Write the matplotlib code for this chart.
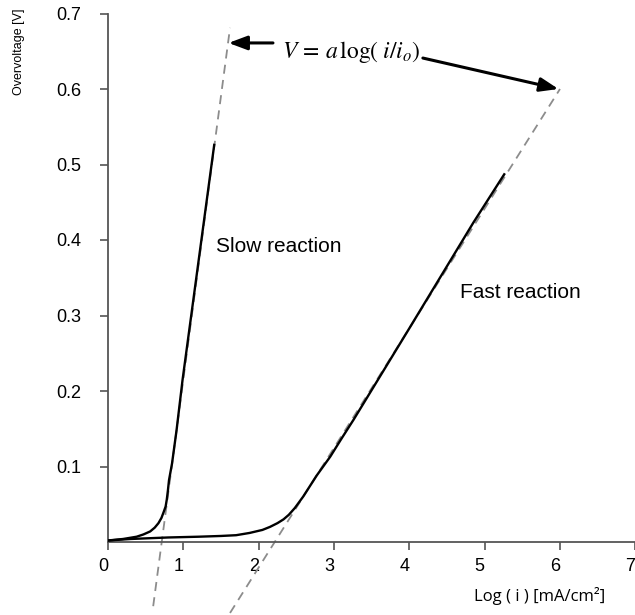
import matplotlib
matplotlib.use("Agg")
import matplotlib.pyplot as plt
from matplotlib.transforms import ScaledTranslation

# Overvoltage vs log current density (Tafel behaviour)
slow_x = [0.0, 0.20, 0.38, 0.47, 0.56, 0.62, 0.67, 0.71, 0.74, 0.765, 0.78, 0.795,
          0.81, 0.85, 0.91, 0.99, 1.41]
slow_y = [0.002, 0.004, 0.007, 0.010, 0.014, 0.019, 0.025, 0.032, 0.040, 0.047,
          0.056, 0.068, 0.082, 0.104, 0.148, 0.215, 0.526]

fast_x = [0.0, 0.3, 0.8, 1.2, 1.50, 1.70, 1.88, 2.05, 2.15, 2.25, 2.33, 2.40, 2.48,
          2.59, 2.68, 2.77, 2.95, 3.10, 3.26, 4.0, 4.85, 5.26]
fast_y = [0.002, 0.004, 0.006, 0.007, 0.008, 0.009, 0.012, 0.016, 0.020, 0.025,
          0.030, 0.036, 0.045, 0.060, 0.074, 0.088, 0.113, 0.137, 0.162, 0.283,
          0.423, 0.487]

# Tafel extrapolation lines
slow_tan_x = [0.60, 1.62]
slow_tan_y = [-0.085, 0.681]
fast_tan_x = [1.62, 6.0]
fast_tan_y = [-0.094, 0.600]

x_ticks = [0, 1, 2, 3, 4, 5, 6, 7]
y_ticks = [0.1, 0.2, 0.3, 0.4, 0.5, 0.6, 0.7]
y_tick_labels = ["0.1", "0.2", "0.3", "0.4", "0.5", "0.6", "0.7"]

plt.rcParams["font.family"] = ["Liberation Sans", "DejaVu Sans"]
plt.rcParams["mathtext.fontset"] = "stix"

W, H = 635, 615
fig = plt.figure(figsize=(W / 100, H / 100), dpi=100)
ax = fig.add_axes([108 / W, 73 / H, 7 * 75.33 / W, 528.5 / H])

spine_col = "#555555"
dash_col = "#8c8c8c"
ax.plot(slow_tan_x, slow_tan_y, color=dash_col, lw=1.3, ls=(0, (5, 3.5)),
        clip_on=False, zorder=2)
ax.plot(fast_tan_x, fast_tan_y, color=dash_col, lw=1.3, ls=(0, (5, 3.5)),
        clip_on=False, zorder=2)
ax.plot(slow_x, slow_y, color="black", lw=1.7, solid_joinstyle="round", zorder=3)
ax.plot(fast_x, fast_y, color="black", lw=1.7, solid_joinstyle="round", zorder=3)

ax.set_xlim(0, 7)
ax.set_ylim(0, 0.7)
ax.set_xticks(x_ticks)
ax.set_xticklabels([str(v) for v in x_ticks])
ax.set_yticks(y_ticks)
ax.set_yticklabels(y_tick_labels)

for side in ("top", "right"):
    ax.spines[side].set_visible(False)
for side in ("left", "bottom"):
    ax.spines[side].set_color(spine_col)
    ax.spines[side].set_linewidth(1.3)

ax.tick_params(axis="both", direction="out", length=6, width=1.2,
               color=spine_col, labelsize=13, labelcolor="black")
ax.tick_params(axis="y", pad=13.5)
ax.tick_params(axis="x", pad=5.5)

# x tick labels sit slightly left of their ticks
shift = ScaledTranslation(-5 / 100, 0, fig.dpi_scale_trans)
for lbl in ax.get_xticklabels():
    lbl.set_transform(lbl.get_transform() + shift)

ax.text(1.43, 0.391, "Slow reaction", fontsize=15, ha="left", va="center")
ax.text(4.67, 0.330, "Fast reaction", fontsize=15, ha="left", va="center")

ax.text(2.31, 0.649, r"$V\,=\,a\,\log(\;i/i_o)$", fontsize=17, ha="left",
        va="center")

arrow_kw = dict(arrowstyle="-|>,head_length=0.8,head_width=0.3", color="black",
                lw=2.2, mutation_scale=14, shrinkA=0, shrinkB=0)
ax.annotate("", xy=(1.60, 0.661), xytext=(2.19, 0.661),
            arrowprops=arrow_kw, annotation_clip=False)
ax.annotate("", xy=(5.98, 0.600), xytext=(4.18, 0.641),
            arrowprops=arrow_kw, annotation_clip=False)

fig.text(19 / W, 1 - 52 / H, "Overvoltage [V]", rotation=90, fontsize=9,
         ha="center", va="center")
fig.text(539.5 / W, 1 - 596 / H, "Log ( i ) [mA/cm²]", fontsize=12,
         family=["Open Sans", "DejaVu Sans"], ha="center", va="center")

fig.savefig("out.png", dpi=100)
